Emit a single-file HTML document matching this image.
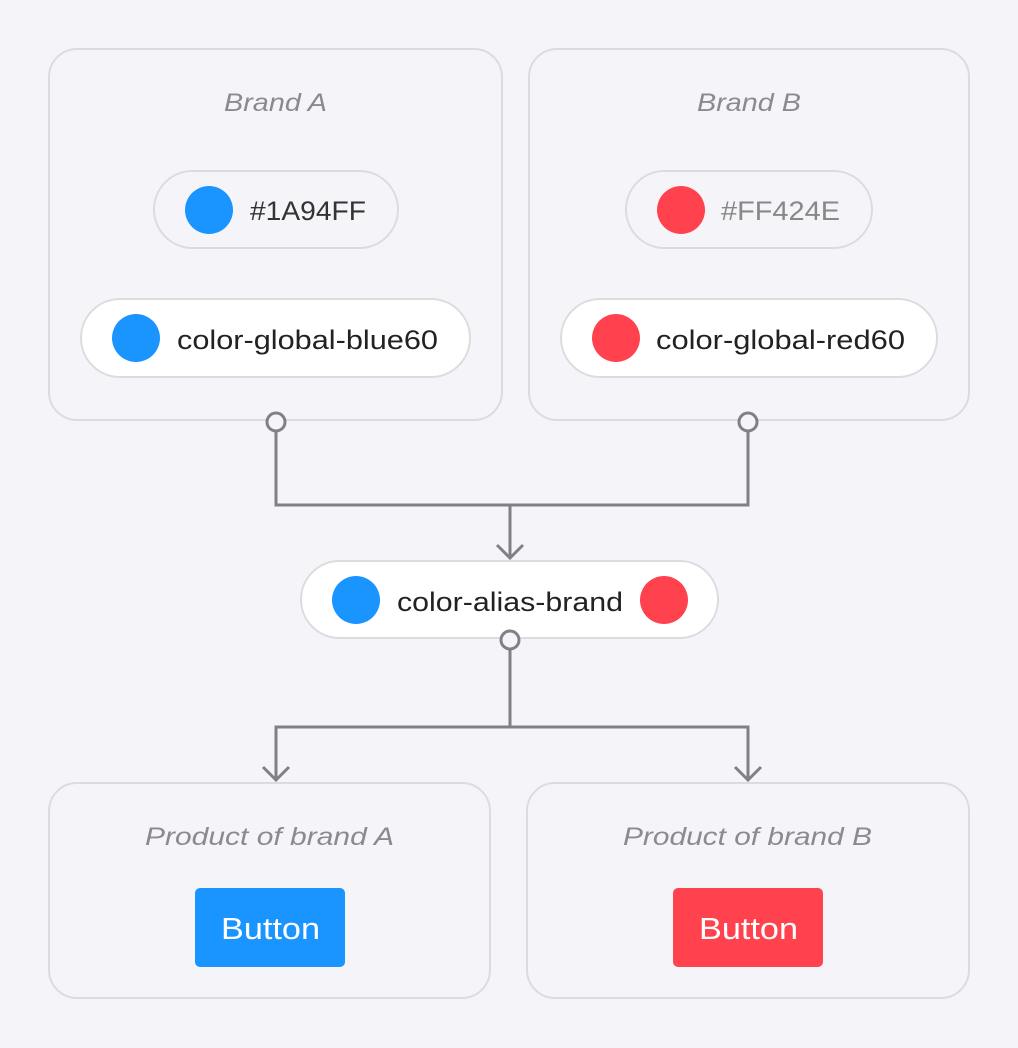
<!DOCTYPE html>
<html><head><meta charset="utf-8"><style>
html,body{margin:0;padding:0;background:#f5f5f9;}
svg{display:block;font-family:"Liberation Sans",sans-serif;}
</style></head><body>
<svg width="1018" height="1048" viewBox="0 0 1018 1048" xmlns="http://www.w3.org/2000/svg">
<rect width="1018" height="1048" fill="#f5f5f9"/>
<g fill="#f5f5f9" stroke="#dcdce0" stroke-width="2">
<rect x="49" y="49" width="453" height="371" rx="28"/>
<rect x="529" y="49" width="440" height="371" rx="28"/>
<rect x="49" y="783" width="441" height="215" rx="28"/>
<rect x="527" y="783" width="442" height="215" rx="28"/>
<rect x="154" y="171" width="244" height="77" rx="38.5"/>
<rect x="626" y="171" width="246" height="77" rx="38.5"/>
<rect x="81" y="299" width="389" height="78" rx="39" fill="#fff"/>
<rect x="561" y="299" width="376" height="78" rx="39" fill="#fff"/>
<rect x="301" y="561" width="417" height="77" rx="38.5" fill="#fff"/>
</g>
<g font-style="italic" font-size="25" fill="#8a8a92" lengthAdjust="spacingAndGlyphs">
<text x="224" y="111" textLength="103" lengthAdjust="spacingAndGlyphs">Brand A</text>
<text x="697" y="111" textLength="104" lengthAdjust="spacingAndGlyphs">Brand B</text>
<text x="145" y="845" textLength="249" lengthAdjust="spacingAndGlyphs">Product of brand A</text>
<text x="623" y="845" textLength="249" lengthAdjust="spacingAndGlyphs">Product of brand B</text>
</g>
<circle cx="209" cy="210" r="24" fill="#1a94ff"/>
<circle cx="681" cy="210" r="24" fill="#ff424e"/>
<circle cx="136" cy="338" r="24" fill="#1a94ff"/>
<circle cx="616" cy="338" r="24" fill="#ff424e"/>
<circle cx="356" cy="600" r="24" fill="#1a94ff"/>
<circle cx="664" cy="600" r="24" fill="#ff424e"/>
<g font-size="27">
<text x="250" y="220" fill="#333" textLength="116" lengthAdjust="spacingAndGlyphs">#1A94FF</text>
<text x="721" y="220" fill="#888" textLength="119" lengthAdjust="spacingAndGlyphs">#FF424E</text>
<text x="177" y="349" fill="#222" textLength="261" lengthAdjust="spacingAndGlyphs">color-global-blue60</text>
<text x="656" y="349" fill="#222" textLength="249" lengthAdjust="spacingAndGlyphs">color-global-red60</text>
<text x="397" y="611" fill="#222" textLength="226" lengthAdjust="spacingAndGlyphs">color-alias-brand</text>
</g>
<g stroke="#808088" stroke-width="3" fill="none">
<path d="M276 431 V505 H748 V431"/>
<path d="M510 505 V557"/>
<path d="M497 545 L510 558 L523 545"/>
<path d="M510 649 V727"/>
<path d="M276 780 V727 H748 V780"/>
<path d="M263 767 L276 780 L289 767"/>
<path d="M735 767 L748 780 L761 767"/>
<circle cx="276" cy="422" r="9" fill="#f5f5f9"/>
<circle cx="748" cy="422" r="9" fill="#f5f5f9"/>
<circle cx="510" cy="640" r="9" fill="#f5f5f9"/>
</g>
<rect x="195" y="888" width="150" height="79" rx="5" fill="#1a94ff"/>
<rect x="673" y="888" width="150" height="79" rx="5" fill="#ff424e"/>
<g font-size="31" fill="#fff">
<text x="221" y="939" textLength="99" lengthAdjust="spacingAndGlyphs">Button</text>
<text x="699" y="939" textLength="99" lengthAdjust="spacingAndGlyphs">Button</text>
</g>
</svg>
</body></html>
